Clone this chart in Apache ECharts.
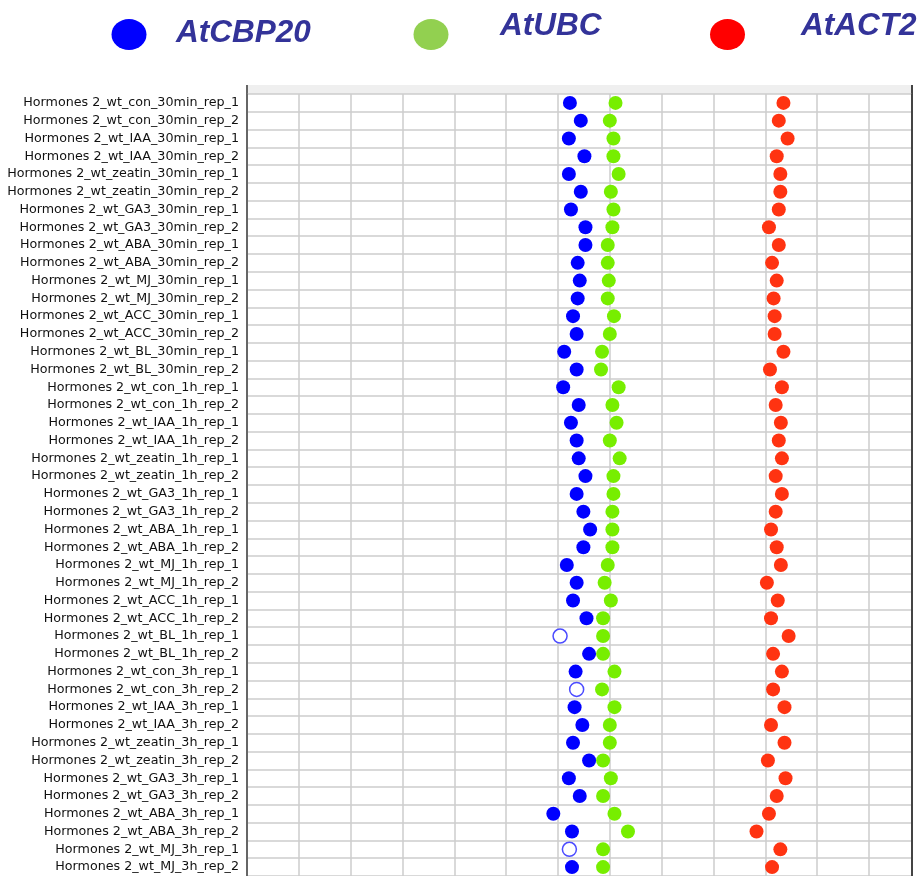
<!DOCTYPE html>
<html>
<head>
<meta charset="utf-8">
<script src="https://cdn.jsdelivr.net/npm/echarts@6/dist/echarts.min.js"></script>
<style>
html,body{margin:0;padding:0;background:#fff;}
#chart{width:920px;height:876px;}
</style>
</head>
<body>
<div id="chart"></div>
<script>
const categories = [
  'Hormones 2_wt_con_30min_rep_1','Hormones 2_wt_con_30min_rep_2',
  'Hormones 2_wt_IAA_30min_rep_1','Hormones 2_wt_IAA_30min_rep_2',
  'Hormones 2_wt_zeatin_30min_rep_1','Hormones 2_wt_zeatin_30min_rep_2',
  'Hormones 2_wt_GA3_30min_rep_1','Hormones 2_wt_GA3_30min_rep_2',
  'Hormones 2_wt_ABA_30min_rep_1','Hormones 2_wt_ABA_30min_rep_2',
  'Hormones 2_wt_MJ_30min_rep_1','Hormones 2_wt_MJ_30min_rep_2',
  'Hormones 2_wt_ACC_30min_rep_1','Hormones 2_wt_ACC_30min_rep_2',
  'Hormones 2_wt_BL_30min_rep_1','Hormones 2_wt_BL_30min_rep_2',
  'Hormones 2_wt_con_1h_rep_1','Hormones 2_wt_con_1h_rep_2',
  'Hormones 2_wt_IAA_1h_rep_1','Hormones 2_wt_IAA_1h_rep_2',
  'Hormones 2_wt_zeatin_1h_rep_1','Hormones 2_wt_zeatin_1h_rep_2',
  'Hormones 2_wt_GA3_1h_rep_1','Hormones 2_wt_GA3_1h_rep_2',
  'Hormones 2_wt_ABA_1h_rep_1','Hormones 2_wt_ABA_1h_rep_2',
  'Hormones 2_wt_MJ_1h_rep_1','Hormones 2_wt_MJ_1h_rep_2',
  'Hormones 2_wt_ACC_1h_rep_1','Hormones 2_wt_ACC_1h_rep_2',
  'Hormones 2_wt_BL_1h_rep_1','Hormones 2_wt_BL_1h_rep_2',
  'Hormones 2_wt_con_3h_rep_1','Hormones 2_wt_con_3h_rep_2',
  'Hormones 2_wt_IAA_3h_rep_1','Hormones 2_wt_IAA_3h_rep_2',
  'Hormones 2_wt_zeatin_3h_rep_1','Hormones 2_wt_zeatin_3h_rep_2',
  'Hormones 2_wt_GA3_3h_rep_1','Hormones 2_wt_GA3_3h_rep_2',
  'Hormones 2_wt_ABA_3h_rep_1','Hormones 2_wt_ABA_3h_rep_2',
  'Hormones 2_wt_MJ_3h_rep_1','Hormones 2_wt_MJ_3h_rep_2'
];

const seriesNames = ['AtCBP20', 'AtUBC', 'AtACT2'];

const valuesCBP20 = [
  20.23, 20.44, 20.21, 20.51, 20.21, 20.44, 20.25, 20.53,
  20.53, 20.38, 20.42, 20.38, 20.29, 20.36, 20.12, 20.36,
  20.10, 20.40, 20.25, 20.36, 20.40, 20.53, 20.36, 20.49,
  20.62, 20.49, 20.17, 20.36, 20.29, 20.55, 20.04, 20.60,
  20.34, 20.36, 20.32, 20.47, 20.29, 20.60, 20.21, 20.42,
  19.91, 20.27, 20.22, 20.27
];

const valuesUBC = [
  21.11, 21.00, 21.07, 21.07, 21.17, 21.02, 21.07, 21.05,
  20.96, 20.96, 20.98, 20.96, 21.08, 21.00, 20.85, 20.83,
  21.17, 21.05, 21.13, 21.00, 21.19, 21.07, 21.07, 21.05,
  21.05, 21.05, 20.96, 20.90, 21.02, 20.87, 20.87, 20.87,
  21.09, 20.85, 21.09, 21.00, 21.00, 20.87, 21.02, 20.87,
  21.09, 21.35, 20.87, 20.87
];

const valuesACT2 = [
  24.35, 24.26, 24.43, 24.22, 24.29, 24.29, 24.26, 24.07,
  24.26, 24.13, 24.22, 24.16, 24.18, 24.18, 24.35, 24.09,
  24.32, 24.20, 24.30, 24.26, 24.32, 24.20, 24.32, 24.20,
  24.11, 24.22, 24.30, 24.03, 24.24, 24.11, 24.45, 24.15,
  24.32, 24.15, 24.37, 24.11, 24.37, 24.05, 24.39, 24.22,
  24.07, 23.83, 24.29, 24.13
];

// AtCBP20 points drawn as open circles in the reference
const openCBP20 = [
  'Hormones 2_wt_BL_1h_rep_1',
  'Hormones 2_wt_con_3h_rep_2',
  'Hormones 2_wt_MJ_3h_rep_1'
];

const xMin = 14, xMax = 26.83, xStep = 1;

const seriesColors = ['#0000ff', '#77ee00', '#ff3311'];
const legendColors = ['#0000ff', '#92d050', '#ff0000'];
const ellipse = 'path://M0,15.5A17.5,15.5,0,1,1,35,15.5A17.5,15.5,0,1,1,0,15.5z';

function pts(vals, openList) {
  return vals.map((v, i) => {
    const item = { value: [v, categories[i]] };
    if (openList && openList.indexOf(categories[i]) >= 0) {
      item.itemStyle = { color: '#ffffff', borderColor: '#4b4bff', borderWidth: 1.5 };
    }
    return item;
  });
}

const legendFont = {
  fontFamily: 'Liberation Sans',
  fontSize: 31.5,
  fontWeight: 'bold',
  fontStyle: 'italic',
  color: '#333399'
};
// marker-only legend entries
function legendIcon(idx, left) {
  return {
    data: [{ name: seriesNames[idx], itemStyle: { color: legendColors[idx] } }],
    left: left, top: 19, padding: 0,
    icon: ellipse, itemWidth: 35, itemHeight: 31,
    selectedMode: false,
    formatter: function () { return ''; }
  };
}
// text-only legend entries (reference shows labels at their own heights)
function legendText(idx, left, padLeft, top) {
  return {
    data: [{ name: seriesNames[idx], itemStyle: { color: 'rgba(0,0,0,0)', opacity: 0 } }],
    left: left, top: top, padding: 0,
    icon: ellipse, itemWidth: 35, itemHeight: 31,
    selectedMode: false,
    textStyle: Object.assign({}, legendFont, { padding: [0, 0, 0, padLeft] })
  };
}

const splitStyle = { color: '#cccccc', width: 1.5 };

const option = {
  backgroundColor: '#ffffff',
  animation: false,
  legend: [
    legendIcon(0, 111.5),
    legendIcon(1, 413.5),
    legendIcon(2, 710),
    legendText(0, 111.5, 24.5, 17.5),
    legendText(1, 413.5, 46.5, 10),
    legendText(2, 710, 51, 10)
  ],
  grid: { left: 247, right: 8, top: 94, bottom: -1.2, containLabel: false },
  xAxis: {
    type: 'value', min: xMin, max: xMax, interval: xStep,
    axisLabel: { show: false }, axisTick: { show: false }, axisLine: { show: false },
    splitLine: { show: true, lineStyle: splitStyle }
  },
  yAxis: [{
    type: 'category', data: categories, inverse: true, boundaryGap: true,
    axisLine: { show: true, lineStyle: { color: '#666666', width: 2 } },
    axisTick: { show: false },
    axisLabel: { fontFamily: 'DejaVu Sans', fontSize: 12.7, color: '#111111', margin: 8 },
    splitLine: { show: true, lineStyle: splitStyle }
  }, {
    type: 'category', data: categories, inverse: true, position: 'right',
    axisLine: { show: true, lineStyle: { color: '#444444', width: 2 } },
    axisTick: { show: false }, axisLabel: { show: false }, splitLine: { show: false }
  }],
  graphic: [
    { type: 'rect', shape: { x: 247, y: 85, width: 665, height: 9 }, style: { fill: '#efefef' }, z: 0 },
    { type: 'line', shape: { x1: 247, y1: 85, x2: 247, y2: 95 }, style: { stroke: '#666666', lineWidth: 2 } },
    { type: 'line', shape: { x1: 912, y1: 85, x2: 912, y2: 95 }, style: { stroke: '#444444', lineWidth: 2 } }
  ],
  series: [
    { name: seriesNames[0], type: 'scatter', symbol: 'circle', symbolSize: 14,
      itemStyle: { color: seriesColors[0], opacity: 1 }, data: pts(valuesCBP20, openCBP20), z: 3 },
    { name: seriesNames[1], type: 'scatter', symbol: 'circle', symbolSize: 14,
      itemStyle: { color: seriesColors[1], opacity: 1 }, data: pts(valuesUBC), z: 3 },
    { name: seriesNames[2], type: 'scatter', symbol: 'circle', symbolSize: 14,
      itemStyle: { color: seriesColors[2], opacity: 1 }, data: pts(valuesACT2), z: 3 }
  ]
};

const chart = echarts.init(document.getElementById('chart'), null, { renderer: 'canvas' });
chart.setOption(option);
</script>
</body>
</html>
